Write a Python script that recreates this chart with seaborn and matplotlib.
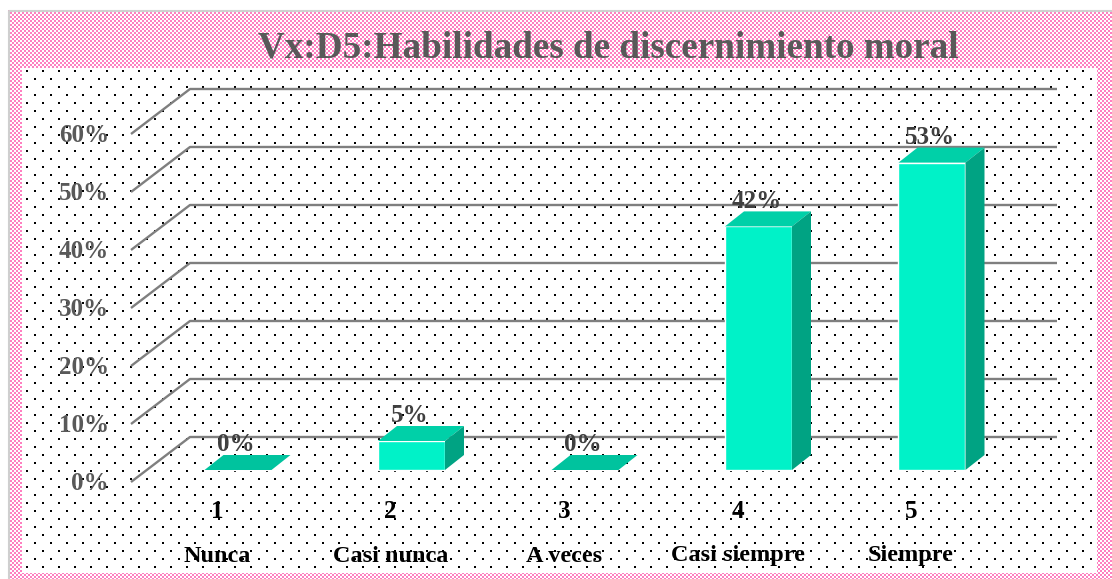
import numpy as np
import pandas as pd
import seaborn as sns
import matplotlib.pyplot as plt
from matplotlib.colors import ListedColormap
from matplotlib.patches import Polygon, Rectangle

# ---------------------------------------------------------
# data
# ---------------------------------------------------------
codigos = ["1", "2", "3", "4", "5"]
categorias = ["Nunca", "Casi nunca", "A veces", "Casi siempre", "Siempre"]
porcentajes = [0, 5, 0, 42, 53]
etiquetas = ["0%", "5%", "0%", "42%", "53%"]
ticks_y = [0, 10, 20, 30, 40, 50, 60]
titulo = "Vx:D5:Habilidades de discernimiento moral"

df = pd.DataFrame({"categoria": categorias, "porcentaje": porcentajes})

sns.set_theme(style="white")
plt.rcParams["font.family"] = ["Liberation Serif", "DejaVu Serif"]

W, H = 1112, 579
fig = plt.figure(figsize=(W / 100, H / 100), dpi=100)
fig.patch.set_facecolor("white")

# ---------------------------------------------------------
# background: pink checker frame + dotted white area
# ---------------------------------------------------------
bg = fig.add_axes([0, 0, 1, 1], zorder=0)
bg.set_xlim(0, W)
bg.set_ylim(H, 0)
bg.axis("off")
ii, jj = np.indices((H, W))
checker = ((ii // 2 + jj // 2) % 2).astype(float)
bg.imshow(checker, cmap=ListedColormap(["white", "#ff7fc0"]),
          extent=(0, W, H, 0), interpolation="nearest", aspect="auto")
bg.add_patch(Rectangle((0, 0), 8, H, color="white", lw=0))
bg.add_patch(Rectangle((0, 0), W, 10, color="white", lw=0))
bg.plot([8.5, 8.5, W], [H, 10.5, 10.5], color="#cfcfcf", lw=1.5)
bg.add_patch(Rectangle((22, 68), 1097 - 22, 573 - 68, color="white", lw=0))
gx, gy = np.meshgrid(np.arange(26.7, 1097, 16), np.arange(70.7, 573, 16))
bg.scatter(gx.ravel(), gy.ravel(), s=2.4, marker="s", color="black", lw=0)
gx, gy = np.meshgrid(np.arange(34.7, 1097, 16), np.arange(78.7, 573, 16))
bg.scatter(gx.ravel(), gy.ravel(), s=2.4, marker="s", color="black", lw=0)

# ---------------------------------------------------------
# main chart (pseudo 3D)
# ---------------------------------------------------------
ax = fig.add_axes([0, 0, 1, 1], zorder=1)
ax.patch.set_alpha(0)

px_cat = 173.5   # pixels per category
px_pct = 5.8     # pixels per percent
x0_px, y0_px = 238, 470

frente = "#00f2c8"
arriba = "#00d0a8"
lado = "#00a383"
plano = "#00c39e"

sns.barplot(data=df, x="categoria", y="porcentaje", ax=ax, width=67 / px_cat,
            color=frente, saturation=1, errorbar=None, zorder=3)

ax.set_xlim(-x0_px / px_cat, (W - x0_px) / px_cat)
ax.set_ylim((y0_px - H) / px_pct, y0_px / px_pct)
ax.axis("off")

# depth of bars and walls
dx, dy = 19 / px_cat, 15 / px_pct
pared_x0, pared_y0 = (190 - x0_px) / px_cat, (y0_px - 437) / px_pct
pared_x1 = (1057 - x0_px) / px_cat
frente_x0, frente_y0 = (131 - x0_px) / px_cat, (y0_px - 482) / px_pct

for t in ticks_y:
    ax.plot([frente_x0, pared_x0, pared_x1],
            [frente_y0 + t, pared_y0 + t, pared_y0 + t],
            color="#7f7f7f", lw=1.7, zorder=1, solid_capstyle="butt")
    ax.text((109 - x0_px) / px_cat, (y0_px - 490) / px_pct + t, f"{t}%",
            ha="right", va="baseline", fontsize=18, fontweight="bold",
            color="#595959")

for p in ax.patches[:len(porcentajes)]:
    x, w, h = p.get_x(), p.get_width(), p.get_height()
    col_top = arriba if h > 0 else plano
    ax.add_patch(Polygon([(x, h), (x + w, h), (x + w + dx, h + dy), (x + dx, h + dy)],
                         closed=True, color=col_top, lw=0, zorder=4))
    if h > 0:
        ax.add_patch(Polygon([(x + w, 0), (x + w + dx, dy), (x + w + dx, h + dy), (x + w, h)],
                             closed=True, color=lado, lw=0, zorder=4))

for i, (v, lab) in enumerate(zip(porcentajes, etiquetas)):
    ax.text(i - 2 / px_cat, v + 3.2, lab, ha="center", va="baseline",
            fontsize=18, fontweight="bold", color="#404040", zorder=6)

desplaz = 21 / px_cat
for i, (c, n) in enumerate(zip(codigos, categorias)):
    ax.text(i - desplaz, (y0_px - 518) / px_pct, c, ha="center", va="baseline",
            fontsize=18, fontweight="bold", color="black")
    ax.text(i - desplaz, (y0_px - 561.5) / px_pct, n, ha="center", va="baseline",
            fontsize=17.5, fontweight="bold", color="black")

fig.text(608 / W, 1 - 57 / H, titulo, ha="center", va="baseline",
         fontsize=26.7, fontweight="bold", color="#595959")

fig.savefig("out.png", dpi=100)
